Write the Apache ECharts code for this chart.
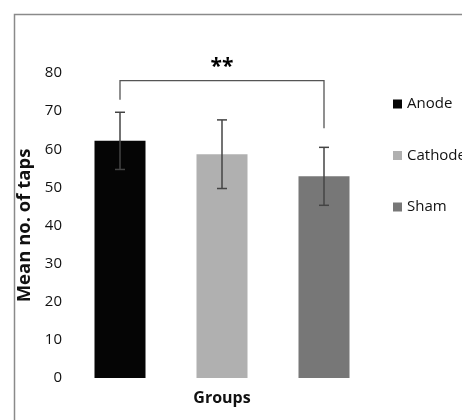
<!DOCTYPE html>
<html>
<head>
<meta charset="utf-8">
<script src="https://cdn.jsdelivr.net/npm/echarts@6/dist/echarts.min.js"></script>
<style>html,body{margin:0;padding:0;background:#fff;}#c{width:462px;height:420px;}</style>
</head>
<body>
<div id="c"></div>
<script>
const categories = ['Anode', 'Cathode', 'Sham'];
const means = [62.2, 58.7, 52.9];
const errors = [7.5, 9.0, 7.6];
const colors = ['#050505', '#b0b0b0', '#777777'];
const yTicks = [0, 10, 20, 30, 40, 50, 60, 70, 80];
const bracket = { from: 0, to: 2, level: 78, leftEnd: 73, rightEnd: 65.5, label: '**', labelAt: 81.5 };

const chart = echarts.init(document.getElementById('c'));
const font = '"Open Sans", "Noto Sans", sans-serif';

const barSeries = categories.map((name, i) => ({
  name: name,
  type: 'bar',
  barWidth: '50%',
  barGap: '-100%',
  itemStyle: { color: colors[i] },
  data: categories.map((c, j) => (j === i ? means[i] : '-')),
  z: 2
}));

const errSeries = {
  type: 'custom',
  data: categories.map((c, i) => [i, means[i] - errors[i], means[i] + errors[i]]),
  renderItem: function (params, api) {
    const lo = api.coord([api.value(0), api.value(1)]);
    const hi = api.coord([api.value(0), api.value(2)]);
    const hw = 5;
    const st = { stroke: '#444', lineWidth: 1.5 };
    return {
      type: 'group',
      children: [
        { type: 'line', shape: { x1: hi[0], y1: hi[1], x2: lo[0], y2: lo[1] }, style: st },
        { type: 'line', shape: { x1: hi[0] - hw, y1: hi[1], x2: hi[0] + hw, y2: hi[1] }, style: st },
        { type: 'line', shape: { x1: lo[0] - hw, y1: lo[1], x2: lo[0] + hw, y2: lo[1] }, style: st }
      ]
    };
  },
  z: 5
};

const bracketSeries = {
  type: 'custom',
  clip: false,
  data: [[bracket.from, bracket.to, bracket.level, bracket.leftEnd, bracket.rightEnd, bracket.labelAt]],
  renderItem: function (params, api) {
    const a = api.coord([api.value(0), api.value(2)]);
    const b = api.coord([api.value(1), api.value(2)]);
    const aEnd = api.coord([api.value(0), api.value(3)]);
    const bEnd = api.coord([api.value(1), api.value(4)]);
    const lab = api.coord([(api.value(0) + api.value(1)) / 2, api.value(5)]);
    const st = { stroke: '#555', lineWidth: 1.3, fill: null };
    return {
      type: 'group',
      children: [
        { type: 'polyline', shape: { points: [[aEnd[0], aEnd[1]], [a[0], a[1]], [b[0], b[1]], [bEnd[0], bEnd[1]]] }, style: st },
        { type: 'text', x: lab[0], y: lab[1], style: { text: bracket.label, font: 'bold 21px ' + font, fill: '#000', align: 'center', verticalAlign: 'middle' } }
      ]
    };
  },
  z: 6
};

chart.setOption({
  animation: false,
  backgroundColor: '#fff',
  graphic: [{
    type: 'rect', left: 12, top: 12, shape: { x: 0, y: 0, width: 470, height: 430 },
    style: { fill: null, stroke: '#8a8a8a', lineWidth: 1.5 }, silent: true, z: 0
  }],
  grid: { left: 69, right: 87, top: 73, bottom: 42 },
  legend: {
    orient: 'vertical',
    left: 388,
    top: 90,
    itemWidth: 9,
    itemHeight: 9,
    itemGap: 33.5,
    icon: 'rect',
    data: categories,
    textStyle: { fontFamily: font, fontSize: 15, color: '#111', lineHeight: 18 }
  },
  xAxis: {
    type: 'category',
    data: categories,
    name: 'Groups',
    nameLocation: 'middle',
    nameGap: 12,
    nameTextStyle: { fontFamily: font, fontSize: 16, fontWeight: 'bold', color: '#111' },
    axisLine: { show: false },
    axisTick: { show: false },
    axisLabel: { show: false }
  },
  yAxis: {
    type: 'value',
    min: yTicks[0],
    max: yTicks[yTicks.length - 1],
    interval: 10,
    name: 'Mean no. of taps',
    nameLocation: 'middle',
    nameGap: 31,
    nameTextStyle: { fontFamily: font, fontSize: 18.5, fontWeight: 'bold', color: '#111' },
    axisLine: { show: false },
    axisTick: { show: false },
    splitLine: { show: false },
    axisLabel: { fontFamily: font, fontSize: 15, color: '#111', margin: 7 }
  },
  series: barSeries.concat([errSeries, bracketSeries])
});
</script>
</body>
</html>
